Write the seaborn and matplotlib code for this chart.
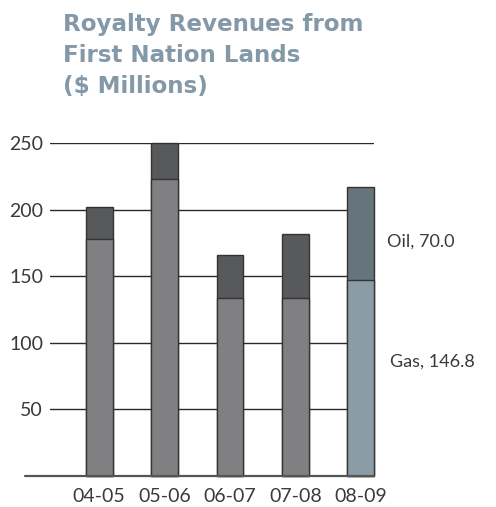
import matplotlib
matplotlib.use("Agg")
import matplotlib.pyplot as plt
import seaborn as sns
import pandas as pd

years = ["04-05", "05-06", "06-07", "07-08", "08-09"]
gas = [178.0, 223.0, 133.5, 133.5, 146.8]
oil = [24.0, 27.0, 32.5, 48.0, 70.0]
y_ticks = [50, 100, 150, 200, 250]

gas_colors = ["#7f7f83", "#7f7f83", "#7f7f83", "#7f7f83", "#879dab"]
oil_colors = ["#58595b", "#58595b", "#58595b", "#58595b", "#63757f"]
title_color = "#8499a8"
text_color = "#3a3a3a"

df = pd.DataFrame({"year": years, "gas": gas, "oil": oil})
df["total"] = df["gas"] + df["oil"]

sns.set_style("white")
plt.rcParams["font.family"] = ["Lato", "DejaVu Sans"]

fig = plt.figure(figsize=(4.96, 5.07), dpi=100)
ax = fig.add_axes([50 / 496, 31 / 507, 324 / 496, 333 / 507])

bar_w = 0.41
edge = dict(edgecolor="#343434", linewidth=1.0)

# Oil stacked on top of gas: draw full totals, then gas over them
sns.barplot(data=df, x="year", y="total", hue="year", palette=oil_colors,
            width=bar_w, legend=False, ax=ax, clip_on=False, zorder=3, **edge)
sns.barplot(data=df, x="year", y="gas", hue="year", palette=gas_colors,
            width=bar_w, legend=False, ax=ax, clip_on=False, zorder=4, **edge)

ax.set_xlim(-0.75, 4.2)
ax.set_ylim(0, 250)
ax.set_yticks(y_ticks)
ax.set_yticklabels([str(v) for v in y_ticks])
for spine in ax.spines.values():
    spine.set_visible(False)

for v in y_ticks:
    ax.axhline(v, color="#2a2a2a", linewidth=1.0, zorder=1)
ax.axhline(0, xmin=-25 / 324, xmax=1.0, color="#555555", linewidth=1.6,
           zorder=5, clip_on=False)

ax.tick_params(axis="both", length=0, colors=text_color)
ax.tick_params(axis="y", pad=5, labelsize=14)
ax.tick_params(axis="x", pad=9, labelsize=14)
ax.set_xlabel("")
ax.set_ylabel("")

# Labels for the latest year's components
ax.text(1.04, 176, f"Oil, {oil[-1]:.1f}", transform=ax.get_yaxis_transform(),
        ha="left", va="center", fontsize=13, color=text_color)
ax.text(1.05, 86, f"Gas, {gas[-1]:.1f}", transform=ax.get_yaxis_transform(),
        ha="left", va="center", fontsize=13, color=text_color)

fig.text(63 / 496, 1 - 13 / 507,
         "Royalty Revenues from\nFirst Nation Lands\n($ Millions)",
         ha="left", va="top", fontsize=16.6, fontweight="bold",
         family="DejaVu Sans", color=title_color, linespacing=1.45)

fig.savefig("out.png", dpi=100)
